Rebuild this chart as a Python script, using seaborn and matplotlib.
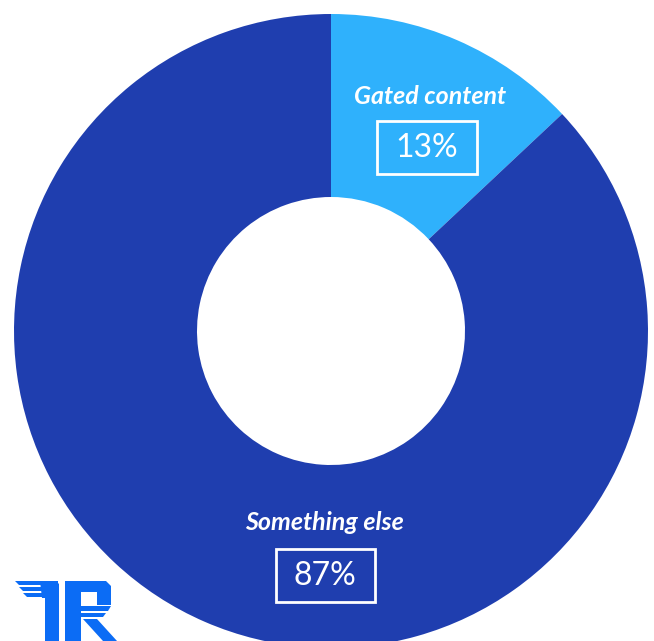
import matplotlib
matplotlib.use("Agg")
import matplotlib.pyplot as plt
from matplotlib.patches import Rectangle, Polygon
import seaborn as sns

# Share of responses
categories = ["Gated content", "Something else"]
shares = [13, 87]
value_labels = ["13%", "87%"]
colors = ["#2FB1FC", "#1F3EAF"]

sns.set_theme(style="white")
plt.rcParams["font.family"] = ["Lato", "DejaVu Sans"]

W, H = 654, 641
fig = plt.figure(figsize=(W / 100, H / 100), dpi=100)
ax = fig.add_axes([0, 0, 1, 1])

cx, cy = 331, H - 331
R = 317
hole = 134

ax.pie(shares, colors=colors, startangle=90, counterclock=False,
       center=(cx, cy), radius=R, frame=True,
       wedgeprops=dict(width=R - hole, linewidth=0))
ax.set_xlim(0, W)
ax.set_ylim(0, H)
ax.set_aspect("equal")
ax.axis("off")

# Category names and boxed percentages
label_pos = [(430, H - 96, 427, H - 147, 100, 53),
             (324, H - 522, 325, H - 575, 99, 53)]
for name, val, (lx, ly, bx, by, bw, bh) in zip(categories, value_labels, label_pos):
    ax.text(lx, ly, name, color="white", fontsize=18, fontweight="bold",
            fontstyle="italic", ha="center", va="center")
    ax.add_patch(Rectangle((bx - bw / 2, by - bh / 2), bw, bh, fill=False,
                           edgecolor="white", linewidth=2))
    ax.text(bx, by - 1, val, color="white", fontsize=23, fontweight="normal",
            ha="center", va="center")

# Corner logo built from simple shapes (image coordinates, y downward)
logo_color = "#0B6CF5"


def logo_poly(pts):
    ax.add_patch(Polygon([(x, H - y) for x, y in pts], closed=True,
                         facecolor=logo_color, edgecolor="none"))


# "T": striped top bar with a stem on the right
for i, (y0, y1) in enumerate([(581, 585), (587, 591), (593, 597)]):
    logo_poly([(15 + 4 * i, y0), (58, y0), (58, y1), (19 + 4 * i, y1)])
logo_poly([(40, 581), (56, 581), (59, 584), (59, 641), (45, 641), (45, 598), (42, 598)])

# "R": stem, bowl with striped base, and diagonal leg
logo_poly([(65, 581), (81, 581), (81, 641), (65, 641)])
logo_poly([(65, 581), (106, 581), (111, 586), (111, 605), (97, 605), (97, 592), (65, 592)])
logo_poly([(81, 606), (111, 606), (108, 611), (81, 611)])
logo_poly([(81, 613), (106, 613), (103, 617), (81, 617)])
logo_poly([(83, 619), (97, 619), (117, 641), (103, 641)])

fig.savefig("out.png", dpi=100)
